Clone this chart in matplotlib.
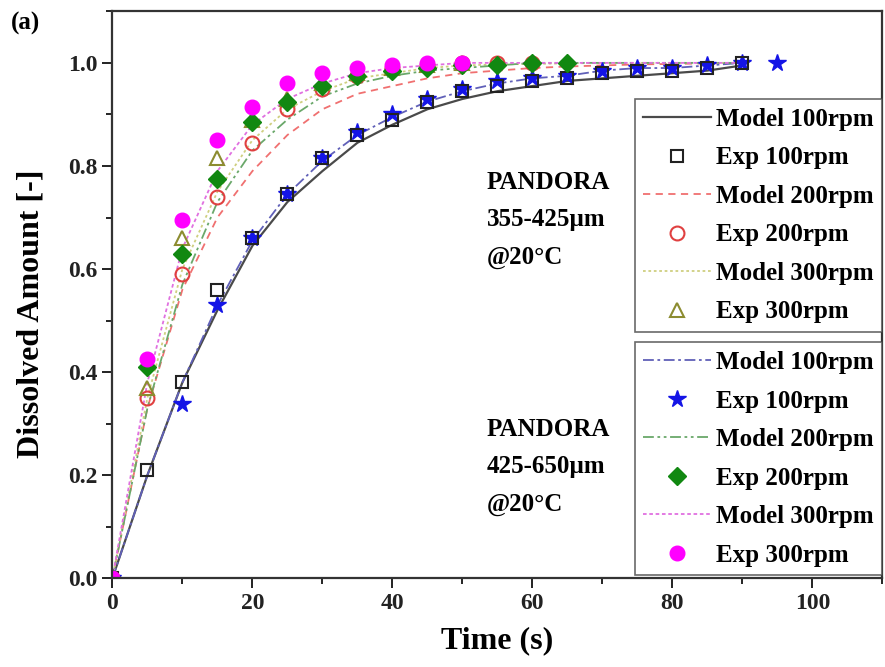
import matplotlib
matplotlib.use('Agg')
import matplotlib.pyplot as plt
from matplotlib.ticker import MultipleLocator

plt.rcParams['font.family'] = ['Liberation Serif', 'DejaVu Serif']
plt.rcParams['font.weight'] = 'bold'

# ── Data: 355-425um (group 1) ─────────────────────────
t_model = [0, 5, 10, 15, 20, 25, 30, 35, 40, 45, 50, 55, 60, 65, 70, 75, 80, 85, 90]
m1_100 = [0, 0.20, 0.38, 0.52, 0.645, 0.73, 0.79, 0.845, 0.88, 0.91, 0.93, 0.945,
          0.955, 0.965, 0.97, 0.975, 0.98, 0.985, 0.995]
m1_200 = [0, 0.33, 0.56, 0.70, 0.79, 0.86, 0.91, 0.94, 0.955, 0.97, 0.98, 0.985,
          0.99, 0.993, 0.995, 0.997, 0.998, 0.999, 1.0]
m1_300 = [0, 0.35, 0.60, 0.75, 0.85, 0.91, 0.945, 0.97, 0.98, 0.99, 0.995, 0.997,
          0.998, 0.999, 1.0, 1.0, 1.0, 1.0, 1.0]

t_e1_100 = [0, 5, 10, 15, 20, 25, 30, 35, 40, 45, 50, 55, 60, 65, 70, 75, 80, 85, 90]
e1_100 = [0, 0.21, 0.38, 0.56, 0.66, 0.745, 0.815, 0.86, 0.89, 0.925, 0.945, 0.955,
          0.965, 0.97, 0.98, 0.985, 0.985, 0.99, 1.0]
t_e1_200 = [0, 5, 10, 15, 20, 25, 30, 35, 40, 45, 50, 55, 60]
e1_200 = [0, 0.35, 0.59, 0.74, 0.845, 0.91, 0.95, 0.975, 0.99, 0.995, 1.0, 1.0, 1.0]
t_e1_300 = [0, 5, 10, 15, 20, 25, 30, 35, 40, 45, 50]
e1_300 = [0, 0.37, 0.66, 0.815, 0.89, 0.93, 0.96, 0.98, 0.99, 0.995, 1.0]

# ── Data: 425-650um (group 2) ─────────────────────────
m2_100 = [0, 0.20, 0.38, 0.53, 0.655, 0.745, 0.81, 0.86, 0.895, 0.925, 0.945, 0.96,
          0.97, 0.975, 0.985, 0.99, 0.99, 0.995, 1.0]
m2_200 = [0, 0.33, 0.57, 0.73, 0.83, 0.89, 0.935, 0.96, 0.975, 0.985, 0.99, 0.995,
          1.0, 1.0, 1.0, 1.0, 1.0, 1.0, 1.0]
m2_300 = [0, 0.38, 0.64, 0.79, 0.88, 0.93, 0.96, 0.98, 0.99, 0.995, 1.0, 1.0,
          1.0, 1.0, 1.0, 1.0, 1.0, 1.0, 1.0]

t_e2_100 = [0, 10, 15, 20, 25, 30, 35, 40, 45, 50, 55, 60, 65, 70, 75, 80, 85, 90, 95]
e2_100 = [0, 0.338, 0.53, 0.66, 0.745, 0.815, 0.865, 0.90, 0.93, 0.95, 0.965, 0.97,
          0.975, 0.985, 0.99, 0.99, 0.995, 1.0, 1.0]
t_e2_200 = [0, 5, 10, 15, 20, 25, 30, 35, 40, 45, 50, 55, 60, 65]
e2_200 = [0, 0.41, 0.63, 0.775, 0.885, 0.925, 0.955, 0.975, 0.985, 0.99, 0.995,
          0.995, 1.0, 1.0]
t_e2_300 = [0, 5, 10, 15, 20, 25, 30, 35, 40, 45, 50]
e2_300 = [0, 0.425, 0.695, 0.85, 0.915, 0.96, 0.98, 0.99, 0.995, 1.0, 1.0]

labels = ['Model 100rpm', 'Exp 100rpm', 'Model 200rpm',
          'Exp 200rpm', 'Model 300rpm', 'Exp 300rpm']

fig = plt.figure(figsize=(8.85, 6.67), dpi=100)
ax = fig.add_axes([0.127, 0.133, 0.870, 0.850])

# model curves
l1a, = ax.plot(t_model, m1_100, color='#4A4A4A', lw=1.6, ls='-')
l1b, = ax.plot(t_model, m1_200, color='#F07070', lw=1.3, ls=(0, (4, 3)))
l1c, = ax.plot(t_model, m1_300, color='#CFCF80', lw=1.3, ls=(0, (1.5, 1.5)))
l2a, = ax.plot(t_model, m2_100, color='#6060B8', lw=1.3, ls=(0, (6, 2, 1.5, 2)))
l2b, = ax.plot(t_model, m2_200, color='#6AA86A', lw=1.3, ls=(0, (6, 2, 1.5, 2, 1.5, 2)))
l2c, = ax.plot(t_model, m2_300, color='#E070E0', lw=1.3, ls=(0, (2, 1.5)))

# experimental points
s2a, = ax.plot(t_e2_100, e2_100, ls='none', marker='*', ms=13, color='#1414E6', mec='#1414E6')
s1a, = ax.plot(t_e1_100, e1_100, ls='none', marker='s', ms=8, mfc='none', mec='#222222', mew=1.5)
s1b, = ax.plot(t_e1_200, e1_200, ls='none', marker='o', ms=10, mfc='none', mec='#E04040', mew=1.5)
s1c, = ax.plot(t_e1_300, e1_300, ls='none', marker='^', ms=10, mfc='none', mec='#8C8C30', mew=1.5)
s2b, = ax.plot(t_e2_200, e2_200, ls='none', marker='D', ms=9, color='#118811')
s2c, = ax.plot(t_e2_300, e2_300, ls='none', marker='o', ms=10.5, color='#FF00FF')

ax.set_xlim(0, 110)
ax.set_ylim(0, 1.1)
ax.xaxis.set_major_locator(MultipleLocator(20))
ax.xaxis.set_minor_locator(MultipleLocator(10))
ax.yaxis.set_minor_locator(MultipleLocator(0.1))
ax.set_yticks([0, 0.2, 0.4, 0.6, 0.8, 1.0])
ax.set_yticklabels(['0.0', '0.2', '0.4', '0.6', '0.8', '1.0'])
ax.tick_params(which='major', direction='out', length=7, width=1.4, labelsize=17, colors='#222222')
ax.tick_params(which='minor', direction='out', length=4, width=1.2)
for sp in ax.spines.values():
    sp.set_linewidth(1.6)
    sp.set_color('#333333')

ax.set_xlabel('Time (s)', fontsize=23, fontweight='bold', labelpad=9)
ax.set_ylabel('Dissolved Amount [-]', fontsize=23, fontweight='bold')
ax.yaxis.set_label_coords(-0.087, 0.466)

leg_kw = dict(fontsize=18, frameon=True, fancybox=False, numpoints=1,
              handlelength=2.7, handletextpad=0.2, labelspacing=0.62,
              borderpad=0.35, borderaxespad=0.0, edgecolor='#444444')
leg1 = ax.legend([l1a, s1a, l1b, s1b, l1c, s1c], labels, loc='upper right',
                 bbox_to_anchor=(1.0, 0.845), **leg_kw)
leg1.get_frame().set_linewidth(1.2)
ax.add_artist(leg1)
leg2 = ax.legend([l2a, s2a, l2b, s2b, l2c, s2c], labels, loc='lower right',
                 bbox_to_anchor=(1.0, 0.005), **leg_kw)
leg2.get_frame().set_linewidth(1.2)

ax.text(0.486, 0.719, 'PANDORA\n355-425\u00b5m\n@20\u00b0C', transform=ax.transAxes,
        fontsize=18, fontweight='bold', va='top', ha='left', linespacing=1.8)
ax.text(0.486, 0.283, 'PANDORA\n425-650\u00b5m\n@20\u00b0C', transform=ax.transAxes,
        fontsize=18, fontweight='bold', va='top', ha='left', linespacing=1.8)

fig.text(0.012, 0.955, '(a)', fontsize=18, fontweight='bold')

fig.savefig('out.png', dpi=100)
